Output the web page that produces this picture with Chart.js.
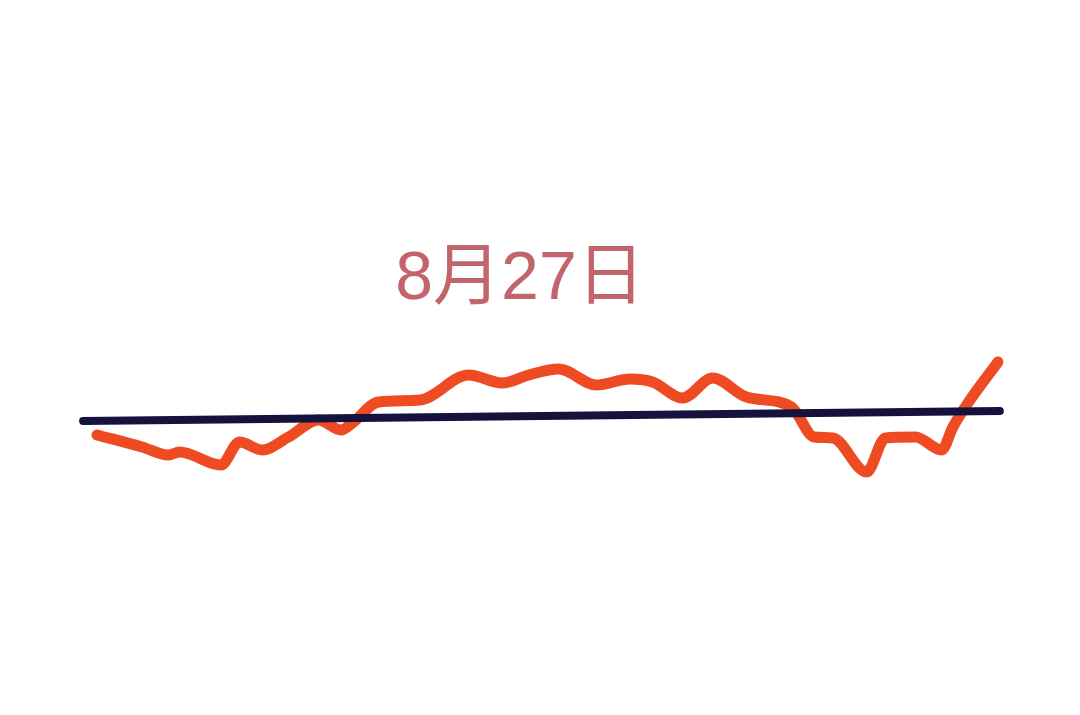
<!DOCTYPE html>
<html lang="zh">
<head>
    <meta charset="UTF-8">
    <title>8月27日</title>
    <script src="https://cdn.jsdelivr.net/npm/chart.js"></script>
    <style>
        body { margin: 0; background: #fff; }
        #wrap { position: relative; width: 1080px; height: 715px; }
        #label {
            position: absolute; left: 0; width: 1040px; top: 241px;
            text-align: center; font-family: "Liberation Sans", "Noto Sans CJK SC", sans-serif;
            font-size: 68px; line-height: 1; color: #c2646c;
        }
    </style>
</head>
<body>
<div id="wrap">
    <canvas id="myChart" width="1080" height="715"></canvas>
    <div id="label">8月27日</div>
</div>
<script>
    // 交易分钟 (0 = 9:30, 240 = 15:00) 及走势数值
    const minutes = [0, 12, 19, 22, 33, 38, 44, 51, 59, 65, 68, 75, 86, 99, 108, 115, 123,
        133, 142, 148, 156, 164, 173, 185, 191, 196, 205, 210, 218, 225, 228, 232, 240];
    const values = [-14, -26, -34, -31, -44, -21, -29, -16, 1, -9, -2, 19, 21, 46, 38, 46, 52,
        36, 42, 39, 23, 43, 24, 14, -16, -17, -51, -17, -16, -29, -6, 18, 59];
    // 基准线 (起点, 终点)
    const baseMinutes = [-3.7, 240.5];
    const baseValues = [0, 10];

    const ctx = document.getElementById('myChart').getContext('2d');
    new Chart(ctx, {
        type: 'line',
        data: {
            datasets: [
                {
                    label: '基准',
                    data: baseMinutes.map((m, i) => ({ x: m, y: baseValues[i] })),
                    borderColor: '#16123e',
                    borderWidth: 8,
                    borderCapStyle: 'round',
                    pointRadius: 0,
                    tension: 0
                },
                {
                    label: '走势',
                    data: minutes.map((m, i) => ({ x: m, y: values[i] })),
                    borderColor: '#ee4b23',
                    borderWidth: 11,
                    borderCapStyle: 'round',
                    borderJoinStyle: 'round',
                    pointRadius: 0,
                    cubicInterpolationMode: 'monotone'
                }
            ]
        },
        options: {
            responsive: false,
            animation: false,
            layout: { padding: 0 },
            plugins: { legend: { display: false }, tooltip: { enabled: false } },
            scales: {
                x: { type: 'linear', display: false, min: -25.84, max: 261.85 },
                y: { display: false, min: -294, max: 421 }
            }
        }
    });
</script>
</body>
</html>
